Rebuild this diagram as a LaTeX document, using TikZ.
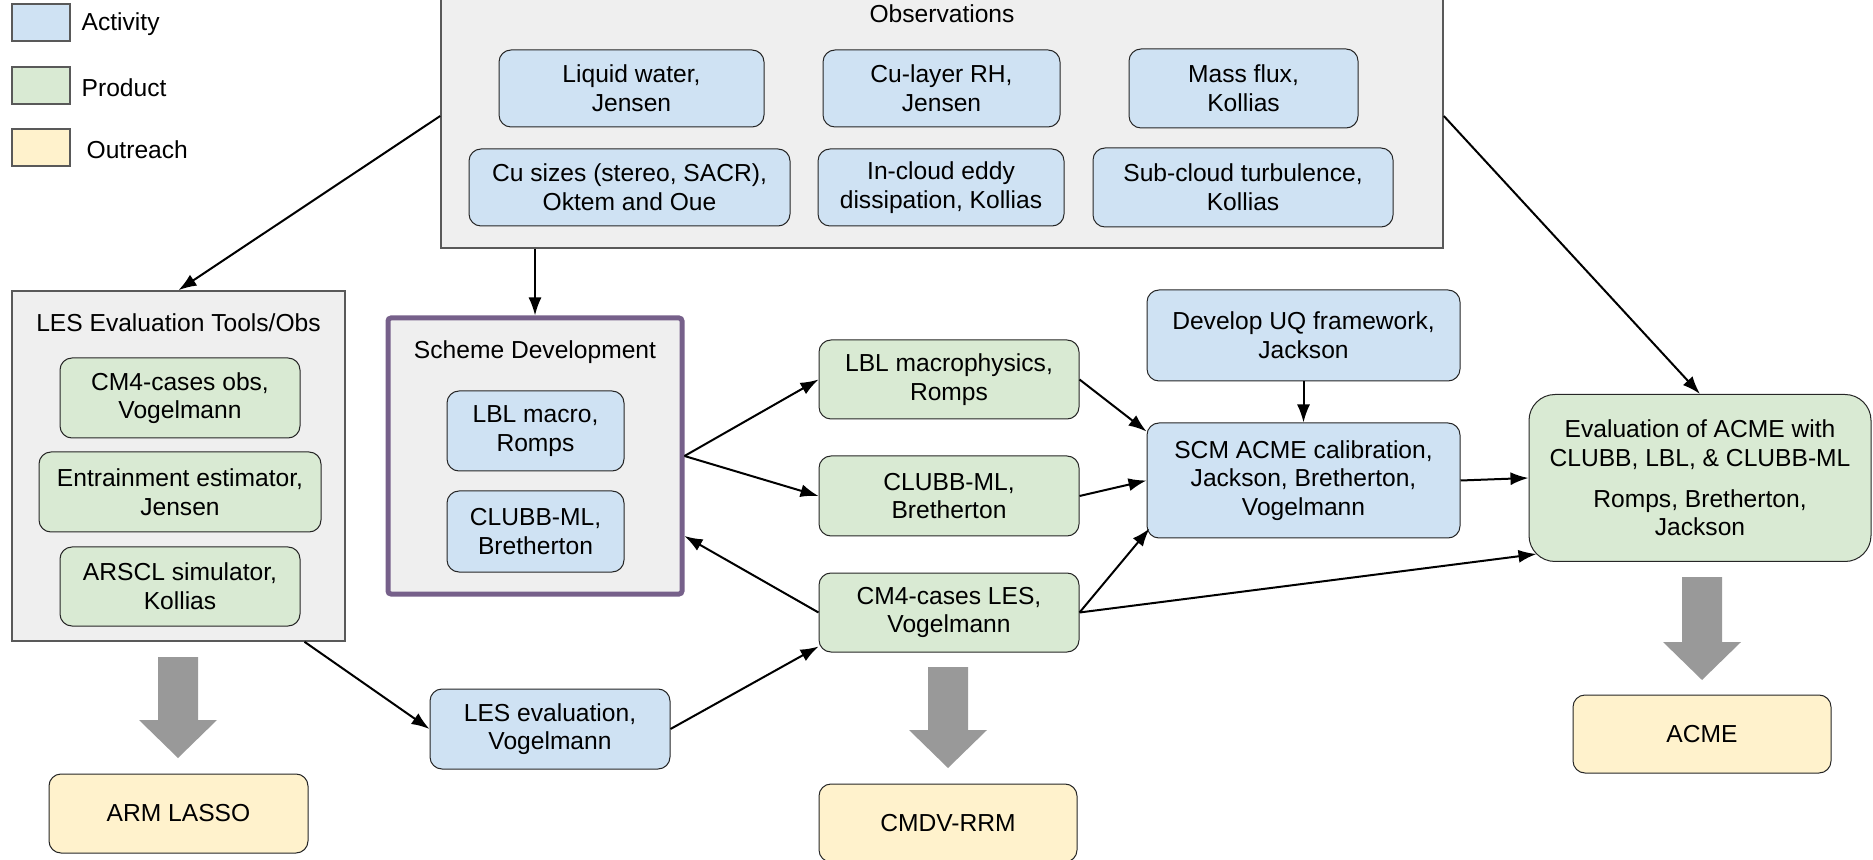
\documentclass[tikz,border=0pt]{standalone}
\usepackage{fontspec}
\setmainfont{Liberation Sans}
\usetikzlibrary{positioning,arrows.meta}

\definecolor{actfill}{HTML}{CFE2F3}
\definecolor{prodfill}{HTML}{D9EAD3}
\definecolor{outfill}{HTML}{FFF2CC}
\definecolor{grpfill}{HTML}{EFEFEF}
\definecolor{grpline}{HTML}{595959}
\definecolor{schline}{HTML}{76608A}
\definecolor{bigarrow}{HTML}{999999}

\tikzset{
	every node/.style={font=\fontsize{12.3}{14.3}\selectfont},
	box/.style={draw=black!85, line width=0.5pt, rounded corners=6pt, align=center, inner sep=0pt},
	activity/.style={box, fill=actfill},
	product/.style={box, fill=prodfill},
	outreach/.style={box, fill=outfill},
	group/.style={draw=grpline, line width=0.8pt, fill=grpfill, inner sep=0pt},
	legendbox/.style={draw=grpline, line width=0.6pt, minimum width=29pt, minimum height=18.5pt, inner sep=0pt},
	flow/.style={-{Latex[length=9pt,width=6.5pt]}, line width=1pt},
}

\newcommand{\bigdown}[3]{%
	\fill[bigarrow] ({#1-20},#2) -- ({#1+20},#2) -- ({#1+20},{#2+#3-38}) -- ({#1+39},{#2+#3-38})
		-- (#1,{#2+#3}) -- ({#1-39},{#2+#3-38}) -- ({#1-20},{#2+#3-38}) -- cycle;}

\begin{document}
\begin{tikzpicture}[x=0.5pt,y=-0.5pt]
	\useasboundingbox (0,0) rectangle (1873,860);

	\node[legendbox, fill=actfill] (lact) at (41,22.5) {};
	\node[legendbox, fill=prodfill] (lprod) at (41,85.5) {};
	\node[legendbox, fill=outfill] (lout) at (41,147.5) {};
	\node[right=2pt of lact, yshift=-1pt] {Activity};
	\node[right=2pt of lprod, yshift=-1pt] {Product};
	\node[right=4.5pt of lout, yshift=-1pt] {Outreach};

	\node[group, minimum width=501pt, minimum height=125pt] (obs) at (942,123) {};
	\node at (942,14) {Observations};
	\node[activity, minimum width=132.5pt, minimum height=38.5pt] (lw) at (631.5,88.5) {Liquid water,\\Jensen};
	\node[activity, minimum width=118.5pt, minimum height=38.5pt] (rh) at (941.5,88.5) {Cu-layer RH,\\Jensen};
	\node[activity, minimum width=114.5pt, minimum height=39.5pt] (mf) at (1243.5,88.5) {Mass flux,\\Kollias};
	\node[activity, minimum width=160.5pt, minimum height=38.5pt] (cs) at (629.5,187.5) {Cu sizes (stereo, SACR),\\Oktem and Oue};
	\node[activity, minimum width=123pt, minimum height=38.5pt] (ed) at (941,187.5) {In-cloud eddy\\dissipation, Kollias};
	\node[activity, minimum width=150pt, minimum height=39.5pt] (st) at (1243,187.5) {Sub-cloud turbulence,\\Kollias};

	\node[group, minimum width=166.5pt, minimum height=175pt] (lesbox) at (178.5,466) {};
	\node at (178.5,323) {LES Evaluation Tools/Obs};
	\node[product, minimum width=120pt, minimum height=40pt] (cmo) at (180,398) {CM4-cases obs,\\Vogelmann};
	\node[product, minimum width=141pt, minimum height=40pt] (ent) at (180,492) {Entrainment estimator,\\Jensen};
	\node[product, minimum width=120pt, minimum height=39.5pt] (ars) at (180,586.5) {ARSCL simulator,\\Kollias};

	\node[group, draw=schline, line width=2.5pt, rounded corners=1.5pt, minimum width=147pt, minimum height=138pt] (sch) at (535,456) {};
	\node at (535,352) {Scheme Development};
	\node[activity, minimum width=88.5pt, minimum height=40pt] (lbm) at (535.5,431) {LBL macro,\\Romps};
	\node[activity, minimum width=88.5pt, minimum height=40.5pt] (cml) at (535.5,531.5) {CLUBB-ML,\\Bretherton};

	\node[product, minimum width=130pt, minimum height=39.5pt] (lbp) at (949,379.5) {LBL macrophysics,\\Romps};
	\node[product, minimum width=130pt, minimum height=40pt] (cbp) at (949,496) {CLUBB-ML,\\Bretherton};
	\node[product, minimum width=130pt, minimum height=39.5pt] (les) at (949,612.5) {CM4-cases LES,\\Vogelmann};
	\node[activity, minimum width=156.5pt, minimum height=45.5pt] (uq) at (1303.5,335.5) {Develop UQ framework,\\Jackson};
	\node[activity, minimum width=156.5pt, minimum height=57.5pt] (scm) at (1303.5,480.5) {SCM ACME calibration,\\Jackson, Bretherton,\\Vogelmann};
	\node[product, rounded corners=13pt, minimum width=171pt, minimum height=83.5pt] (eval) at (1700,478) {Evaluation of ACME with\\CLUBB, LBL, \& CLUBB-ML\\[6pt]Romps, Bretherton,\\Jackson};
	\node[activity, minimum width=120pt, minimum height=40pt] (leseval) at (550,729) {LES evaluation,\\Vogelmann};

	\node[outreach, minimum width=129.5pt, minimum height=39.5pt] (lasso) at (178.5,813.5) {ARM LASSO};
	\node[outreach, minimum width=129pt, minimum height=39pt] (rrm) at (948,823) {CMDV-RRM};
	\node[outreach, minimum width=129pt, minimum height=39pt] (acme) at (1702,734) {ACME};

	\bigdown{178}{657}{101}
	\bigdown{948}{667}{101}
	\bigdown{1702}{577}{103}

	\draw[flow] ([yshift=3.5pt]obs.west) -- (lesbox.north);
	\draw[flow] (obs.south -| sch.north) -- (sch.north);
	\draw[flow] ([yshift=3.5pt]obs.east) -- (eval.north);
	\draw[flow] (sch.east) -- (lbp.west);
	\draw[flow] (sch.east) -- (cbp.west);
	\draw[flow] (les.west) -- ([yshift=-40pt]sch.east);
	\draw[flow] ([xshift=63pt]lesbox.south) -- (leseval.west);
	\draw[flow] (leseval.east) -- ([yshift=3pt]les.south west);
	\draw[flow] (lbp.east) -- ([yshift=-4.5pt]scm.north west);
	\draw[flow] (cbp.east) -- (scm.west);
	\draw[flow] (les.east) -- ([xshift=1.5pt,yshift=5pt]scm.south west);
	\draw[flow] (les.east) -- ([xshift=4pt,yshift=4pt]eval.south west);
	\draw[flow] (uq.south) -- (scm.north);
	\draw[flow] (scm.east) -- (eval.west);
\end{tikzpicture}
\end{document}
